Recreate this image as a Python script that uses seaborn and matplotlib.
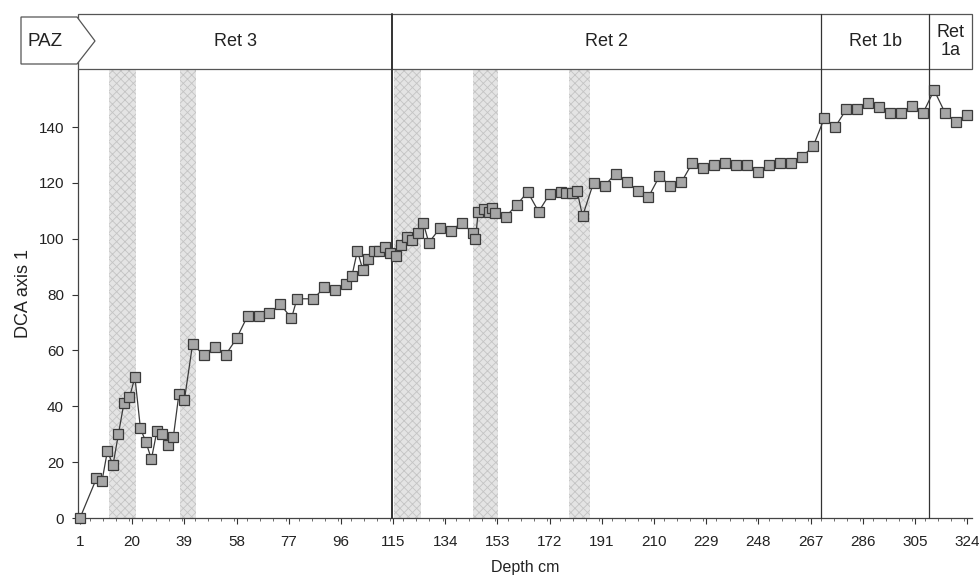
import matplotlib
matplotlib.use("Agg")
import matplotlib.pyplot as plt
import matplotlib.patches as mpatches
from matplotlib.ticker import MultipleLocator, FixedLocator
import seaborn as sns
import pandas as pd

# ---------------- data ----------------
depth = [1, 7, 9, 11, 13, 15, 17, 19, 21, 23, 25, 27, 29, 31, 33, 35, 37, 39,
         42, 46, 50, 54, 58, 62, 66, 70, 74, 78, 80, 86, 90, 94, 98, 100, 102, 104,
         106, 108, 110, 112, 114, 116,
         118, 120, 122, 124, 126, 128, 132, 136, 140, 144, 145, 146, 148, 150, 151, 152,
         156, 160, 164, 168, 172, 176, 178, 180, 182, 184, 188, 192, 196, 200, 204, 208,
         212, 216, 220, 224, 228, 232, 236, 240, 244, 248, 252, 256, 260, 264, 268, 272,
         276, 280, 284, 288, 292, 296, 300, 304, 308, 312, 316, 320, 324]
dca_axis1 = [0, 14.2, 13.2, 24.1, 18.9, 30.1, 41.2, 43.2, 50.4, 32.1, 27.2, 21.1, 31.1,
             30.2, 26.1, 29.1, 44.3, 42.2,
             62.3, 58.4, 61.3, 58.4, 64.3, 72.3, 72.3, 73.5, 76.5, 71.5, 78.5, 78.5, 82.6,
             81.5, 83.8, 86.6, 95.7, 88.8, 92.6, 95.7, 95.7, 96.9, 94.8, 93.8,
             97.7, 100.5, 99.5, 101.9, 105.7, 98.6, 103.7, 102.9, 105.7, 102.1, 99.8,
             109.7, 110.5, 109.7, 110.9, 109.1,
             107.9, 112.1, 116.8, 109.7, 116.0, 116.8, 116.3, 116.3, 117.1, 108.1, 120.1,
             119.0, 123.3, 120.3, 117.2, 115.0, 122.4, 119.0, 120.3, 127.2, 125.2, 126.3,
             127.2, 126.3, 126.3, 124.0, 126.3, 127.2, 127.2, 129.4, 133.2, 143.1, 140.1,
             146.3, 146.3, 148.5, 147.3, 145.1, 145.1, 147.6, 145.1, 153.2, 145.1, 141.9,
             144.5]

shade_start = [11.5, 37.4, 115.2, 144.2, 179.0]
shade_end = [21.4, 43.3, 125.1, 153.3, 186.6]

zone_names = ["Ret 3", "Ret 2", "Ret 1b", "Ret\n1a"]
zone_bounds = [114.7, 270.8, 310.2]

x_ticks = [1, 20, 39, 58, 77, 96, 115, 134, 153, 172, 191, 210, 229, 248, 267, 286, 305, 324]
y_ticks = [0, 20, 40, 60, 80, 100, 120, 140]

df = pd.DataFrame({"Depth cm": depth, "DCA axis 1": dca_axis1})

# ---------------- style ----------------
sns.set_style("white")
plt.rcParams["font.family"] = ["Liberation Sans", "DejaVu Sans"]
plt.rcParams["hatch.linewidth"] = 0.6

W, H = 980, 578
fig = plt.figure(figsize=(W / 100, H / 100), dpi=100)
L, R, B, T = 78, 972, 518, 69
ax = fig.add_axes([L / W, 1 - B / H, (R - L) / W, (B - T) / H])

XMIN, XMAX = 0.27, 325.8
YMIN, YMAX = 0, 160.8
ax.set_xlim(XMIN, XMAX)
ax.set_ylim(YMIN, YMAX)

# shaded bands
for s, e in zip(shade_start, shade_end):
    ax.axvspan(s, e, facecolor="#e4e4e4", edgecolor="#c4c4c4", hatch="xxxx",
               linewidth=0.0, zorder=0)

# series
sns.lineplot(data=df, x="Depth cm", y="DCA axis 1", ax=ax, estimator=None, sort=False,
             color="#3a3a3a", linewidth=0.9, marker="s", markersize=6.8,
             markerfacecolor="#a6a6a6", markeredgecolor="#3a3a3a", markeredgewidth=0.9,
             zorder=6)
for ln in ax.lines:
    ln.set_clip_on(False)

# zone band
trans = ax.get_xaxis_transform()
band_top = (B - 14) / (B - T)
ax.add_patch(mpatches.Rectangle((XMIN, 1.0), XMAX - XMIN, band_top - 1.0, transform=trans,
                                facecolor="white", edgecolor="#555555", linewidth=0.9,
                                clip_on=False, zorder=4))
lws = [1.4, 0.9, 0.9]
for xb, lw in zip(zone_bounds, lws):
    ax.plot([xb, xb], [0, band_top], transform=trans, color="#333333", linewidth=lw,
            clip_on=False, zorder=5)

edges = [XMIN] + zone_bounds + [XMAX]
mid_y = (B - 41.5) / (B - T)
for i, name in enumerate(zone_names):
    xc = (edges[i] + edges[i + 1]) / 2
    ax.text(xc, mid_y, name, transform=trans, ha="center", va="center",
            fontsize=13, color="#222222", linespacing=1.1, zorder=7)

# PAZ arrow box
pts = [(21, 17), (77, 17), (95, 41), (77, 64), (21, 64)]
fig.add_artist(mpatches.Polygon([(x / W, 1 - y / H) for x, y in pts], closed=True,
                                transform=fig.transFigure, facecolor="white",
                                edgecolor="#555555", linewidth=0.9, zorder=7))
fig.text(45 / W, 1 - 41 / H, "PAZ", ha="center", va="center", fontsize=13.5,
         color="#222222", zorder=8)

# axes
ax.xaxis.set_major_locator(FixedLocator(x_ticks))
ax.xaxis.set_minor_locator(MultipleLocator(19 / 4))
ax.set_yticks(y_ticks)
ax.tick_params(axis="both", which="major", direction="out", length=4, width=0.8,
               colors="#333333", labelsize=11, labelcolor="#222222", pad=6)
ax.tick_params(axis="x", which="major", pad=8)
ax.tick_params(axis="x", which="minor", direction="out", length=2.5, width=0.6,
               colors="#555555", bottom=True)
ax.tick_params(axis="x", which="major", bottom=True)
ax.tick_params(axis="y", which="major", left=True)
for side in ["top", "right"]:
    ax.spines[side].set_visible(False)
for side in ["left", "bottom"]:
    ax.spines[side].set_color("#444444")
    ax.spines[side].set_linewidth(0.9)

ax.set_xlabel("Depth cm", fontsize=11.5, color="#222222", labelpad=8)
ax.set_ylabel("DCA axis 1", fontsize=13, color="#222222", labelpad=5)

fig.savefig("out.png", dpi=100)
